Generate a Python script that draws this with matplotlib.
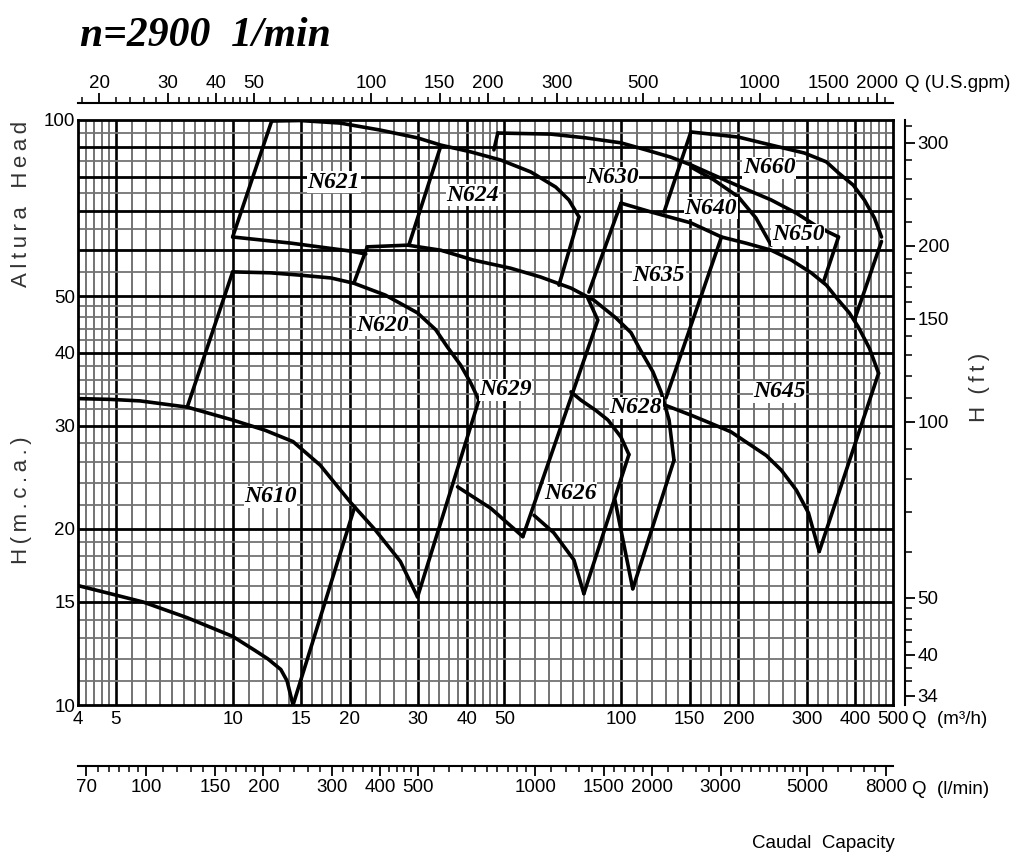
"""Pump selection chart n=2900 1/min, log-log Q-H tiles."""
import numpy as np
import matplotlib.pyplot as plt
from matplotlib.ticker import FixedLocator, NullFormatter, NullLocator

plt.rcParams['font.family'] = ['Liberation Sans', 'DejaVu Sans']

# --- envelope lines, points are (Q m3/h, H m) ---
N610_BOTTOM = [(4.0, 16.0), (4.84, 15.5), (5.88, 15.0), (7.64, 14.1), (10.0, 13.1), (11.4, 12.4),
               (12.3, 12.0), (13.3, 11.5), (13.8, 11.0), (14.3, 10.0)]
N610_RIGHT = [(14.3, 10.0), (20.6, 21.8)]
N610_TOP = [(4.0, 33.4), (4.84, 33.3), (5.78, 33.1), (7.64, 32.3), (10.0, 30.7), (12.1, 29.5),
            (14.3, 28.2), (16.8, 25.7), (20.1, 22.2), (23.3, 19.9), (27.0, 17.6), (29.9, 15.3)]
N620_LEFT = [(7.64, 32.3), (10.0, 55.0)]
N620_TOP = [(10.0, 55.0), (12.5, 54.8), (14.9, 54.3), (17.9, 53.7), (20.5, 52.6), (24.7, 50.2),
            (29.9, 46.8), (33.3, 43.8), (35.7, 40.9), (38.6, 38.1), (41.0, 35.5), (43.0, 33.2)]
N620_RIGHT = [(43.0, 33.2), (29.9, 15.3)]
N621_LEFT = [(10.0, 63.1), (12.6, 99.6)]
N621_TOP = [(12.6, 99.6), (14.9, 99.8), (18.9, 98.8), (24.0, 96.1), (29.9, 93.2), (34.3, 90.6),
            (41.0, 88.2), (49.0, 85.4), (58.5, 81.5), (67.8, 76.8), (73.3, 73.0), (77.8, 68.3)]
N621_RIGHT = [(34.3, 90.2), (28.4, 61.1)]
N621_BOTTOM = [(10.0, 63.1), (14.1, 61.6), (20.1, 59.7), (22.0, 59.0)]
N624_RIGHT = [(77.8, 68.3), (69.1, 52.2)]
N629_LEFT = [(20.5, 52.6), (22.2, 60.7)]
N629_TOP = [(22.2, 60.7), (28.2, 61.1), (34.3, 59.9), (41.7, 57.6), (51.9, 55.8), (62.0, 53.9),
            (74.2, 51.6), (85.0, 49.2), (96.8, 45.9), (105.9, 43.3), (112.0, 40.4), (120.6, 37.1),
            (126.5, 34.3), (132.7, 30.7), (136.6, 26.2)]
N629_RIGHT = [(82.0, 49.6), (87.0, 45.5), (55.8, 19.4)]
N629_BOTTOM = [(37.9, 23.6), (46.1, 21.7), (55.8, 19.4)]
N626_BOTTOM = [(59.6, 21.1), (67.0, 19.7), (75.5, 17.7), (80.1, 15.5)]
N626_RIGHT = [(80.1, 15.5), (104.6, 26.8)]
N626_TOP = [(74.2, 34.3), (78.7, 33.2), (85.9, 31.9), (92.4, 30.7), (99.8, 28.7), (104.6, 26.8)]
N628_BOTTOM = [(96.3, 22.4), (107.0, 15.8)]
N628_RIGHT = [(107.0, 15.8), (136.6, 26.2)]
N635_LEFT = [(99.8, 72.1), (82.5, 50.8)]
N635_RIGHT = [(181.0, 63.1), (130.3, 33.5)]
N645_TOP = [(99.8, 72.1), (119.5, 69.6), (151.0, 66.7), (181.0, 63.1), (209.0, 61.6), (243.0, 59.9),
            (274.0, 57.6), (308.0, 54.8), (337.0, 52.2), (362.0, 49.2), (386.0, 46.8), (407.0, 44.3),
            (435.0, 40.7), (459.0, 36.9)]
N645_RIGHT = [(459.0, 36.9), (323.0, 18.3)]
N645_BOTTOM = [(128.8, 32.6), (151.0, 31.3), (170.0, 30.3), (191.5, 29.3), (212.0, 28.0),
               (236.0, 26.7), (258.0, 25.2), (282.0, 23.3), (303.0, 21.3), (323.0, 18.3)]
N630_LEFT = [(47.0, 88.9), (48.1, 95.0)]
N630_TOP = [(48.1, 95.0), (65.8, 94.6), (81.1, 93.2), (99.8, 91.4), (115.7, 88.9), (134.0, 86.4),
            (151.0, 83.8), (173.0, 80.5), (203.0, 76.8), (243.0, 73.0), (282.0, 69.3), (321.0, 65.6),
            (362.0, 63.1)]
N650_RIGHT = [(362.0, 63.1), (331.0, 52.8)]
N660_TOP = [(151.0, 95.4), (200.0, 93.5), (243.0, 90.6), (296.0, 87.8), (337.0, 84.8), (362.0, 81.2),
            (395.0, 77.4), (422.0, 73.0), (448.0, 68.0), (467.0, 63.1)]
N660_RIGHT = [(467.0, 62.0), (398.0, 45.5)]
N660_LEFT = [(151.0, 95.4), (128.8, 69.6)]
N640_TOP = [(151.0, 83.1), (173.0, 79.0), (200.0, 73.9), (222.0, 68.0), (243.0, 61.1)]

LINES = [N610_BOTTOM, N610_RIGHT, N610_TOP, N620_LEFT, N620_TOP, N620_RIGHT, N621_LEFT, N621_TOP,
         N621_RIGHT, N621_BOTTOM, N624_RIGHT, N629_LEFT, N629_TOP, N629_RIGHT, N629_BOTTOM,
         N626_BOTTOM, N626_RIGHT, N626_TOP, N628_BOTTOM, N628_RIGHT, N635_LEFT, N635_RIGHT,
         N645_TOP, N645_RIGHT, N645_BOTTOM, N630_LEFT, N630_TOP, N650_RIGHT, N660_TOP, N660_RIGHT,
         N660_LEFT, N640_TOP]

LABELS = ["N610", "N620", "N621", "N624", "N629", "N626", "N628", "N630", "N635", "N640",
          "N645", "N650", "N660"]
LABEL_Q = [12.5, 24.3, 18.2, 41.4, 50.4, 74.0, 109.0, 95.0, 125.0, 170.0, 255.0, 285.0, 240.0]
LABEL_H = [22.7, 44.6, 78.3, 74.4, 34.6, 23.0, 32.2, 79.6, 54.3, 70.7, 34.3, 63.6, 82.8]

# axis ticks
Q_TICKS = [4, 5, 10, 15, 20, 30, 40, 50, 100, 150, 200, 300, 400, 500]
H_TICKS = [10, 15, 20, 30, 40, 50, 100]
GPM_TICKS = [20, 30, 40, 50, 100, 150, 200, 300, 500, 1000, 1500, 2000]
LMIN_TICKS = [70, 100, 150, 200, 300, 400, 500, 1000, 1500, 2000, 3000, 5000, 8000]
FT_TICKS = [34, 40, 50, 100, 150, 200, 300]

M3H_TO_GPM = 4.4029
M3H_TO_LMIN = 16.667
M_TO_FT = 3.2808


def steps(*parts):
    out = []
    for a, b, s in parts:
        out += list(np.arange(a, b + s / 2, s))
    return [round(v, 3) for v in out]


GRID_Q_BOLD = [5, 10, 15, 20, 30, 40, 50, 100, 150, 200, 300, 400]
GRID_Q = [v for v in steps((4.2, 4.8, 0.2), (5.5, 9.5, 0.5), (11, 19, 1), (22, 48, 2),
                           (55, 95, 5), (110, 190, 10), (220, 480, 20)) if v not in GRID_Q_BOLD]
GRID_H_BOLD = [15, 20, 30, 40, 50, 60, 70, 80, 90]
GRID_H = [v for v in steps((11, 19, 1), (22, 48, 2), (55, 95, 5)) if v not in GRID_H_BOLD]

GPM_MINOR = steps((18, 48, 2), (55, 95, 5), (110, 190, 10), (220, 480, 20), (550, 950, 50),
                  (1100, 2100, 100))
LMIN_MINOR = steps((75, 95, 5), (110, 190, 10), (220, 480, 20), (550, 950, 50), (1100, 1900, 100),
                   (2200, 4800, 200), (5500, 8000, 500))
FT_MINOR = steps((36, 48, 2), (60, 90, 10), (110, 190, 10), (220, 320, 20))

W, H = 1018, 859
fig = plt.figure(figsize=(W / 100, H / 100), dpi=100)
ax = fig.add_axes([78 / W, 1 - 705 / H, 815 / W, 585 / H])
ax.set_xscale('log')
ax.set_yscale('log')
ax.set_xlim(4, 500)
ax.set_ylim(10, 100)

for q in GRID_Q:
    ax.axvline(q, color='0.3', lw=1.1, zorder=1)
for q in GRID_Q_BOLD:
    ax.axvline(q, color='k', lw=1.9, zorder=1)
for h in GRID_H:
    ax.axhline(h, color='0.45', lw=1.3, zorder=1)
for h in GRID_H_BOLD:
    ax.axhline(h, color='k', lw=2.0, zorder=1)

for pts in LINES:
    q, h = zip(*pts)
    ax.plot(q, h, color='k', lw=2.6, solid_joinstyle='round', solid_capstyle='round', zorder=3)

for name, q, h in zip(LABELS, LABEL_Q, LABEL_H):
    ax.text(q, h, name, fontsize=17, family=['Liberation Serif', 'DejaVu Serif'], style='italic',
            weight='bold', ha='center', va='center', zorder=4,
            bbox=dict(facecolor='white', edgecolor='none', pad=0.4))

for s in ax.spines.values():
    s.set_linewidth(2.0)

ax.xaxis.set_major_locator(FixedLocator(Q_TICKS))
ax.xaxis.set_major_formatter(plt.FixedFormatter([str(v) for v in Q_TICKS]))
ax.xaxis.set_minor_locator(NullLocator())
ax.yaxis.set_major_locator(FixedLocator(H_TICKS))
ax.yaxis.set_major_formatter(plt.FixedFormatter([str(v) for v in H_TICKS]))
ax.yaxis.set_minor_locator(NullLocator())
ax.tick_params(which='both', length=0, labelsize=13.5)
ax.tick_params(axis='x', pad=4)
ax.tick_params(axis='y', pad=2)

# U.S. gpm on top
top = ax.secondary_xaxis(1 + 17 / 585, functions=(lambda q: q * M3H_TO_GPM, lambda g: g / M3H_TO_GPM))
top.set_xticks(GPM_TICKS, labels=[str(v) for v in GPM_TICKS])
top.xaxis.set_minor_locator(FixedLocator(GPM_MINOR))
top.xaxis.set_minor_formatter(NullFormatter())
top.tick_params(which='major', length=7, width=1.3, labelsize=13.5, pad=1)
top.tick_params(which='minor', length=4, width=1.1)
top.spines['top'].set_linewidth(1.5)

# l/min at the bottom
bot = ax.secondary_xaxis(-61 / 585, functions=(lambda q: q * M3H_TO_LMIN, lambda l: l / M3H_TO_LMIN))
bot.set_xticks(LMIN_TICKS, labels=[str(v) for v in LMIN_TICKS])
bot.xaxis.set_minor_locator(FixedLocator(LMIN_MINOR))
bot.xaxis.set_minor_formatter(NullFormatter())
bot.tick_params(which='major', length=7, width=1.3, labelsize=13.5, pad=2)
bot.tick_params(which='minor', length=4, width=1.1)
bot.spines['bottom'].set_linewidth(1.5)

# feet on the right
rgt = ax.secondary_yaxis(1 + 12 / 815, functions=(lambda h: h * M_TO_FT, lambda f: f / M_TO_FT))
rgt.set_yticks(FT_TICKS, labels=[str(v) for v in FT_TICKS])
rgt.yaxis.set_minor_locator(FixedLocator(FT_MINOR))
rgt.yaxis.set_minor_formatter(NullFormatter())
rgt.tick_params(which='major', length=7, width=1.3, labelsize=13.5, pad=2)
rgt.tick_params(which='minor', length=5, width=1.1)
rgt.spines['right'].set_linewidth(1.5)


def px(x, y):
    return x / W, 1 - y / H


def spaced(s):
    return '\u2009'.join(s)


fig.text(*px(80, 36), "n=2900  1/min", fontsize=30, family=['Liberation Serif', 'DejaVu Serif'],
         style='italic', weight='bold', va='center', ha='left')
fig.text(*px(905, 84), "Q (U.S.gpm)", fontsize=13.5, va='center', ha='left')
fig.text(*px(912, 720), "Q  (m³/h)", fontsize=13.5, va='center', ha='left')
fig.text(*px(912, 790), "Q  (l/min)", fontsize=13.5, va='center', ha='left')
fig.text(*px(895, 843), "Caudal  Capacity", fontsize=13.5, va='center', ha='right')
fig.text(*px(22, 204), spaced("Altura") + "   " + spaced("Head"), fontsize=16, rotation=90,
         va='center', ha='center', color='0.2')
fig.text(*px(22, 500), spaced("H(m.c.a.)"), fontsize=16, rotation=90, va='center', ha='center',
         color='0.2')
fig.text(*px(980, 387), "H  " + spaced("(ft)"), fontsize=16, rotation=90, va='center', ha='center',
         color='0.2')

fig.savefig('out.png', dpi=100)
